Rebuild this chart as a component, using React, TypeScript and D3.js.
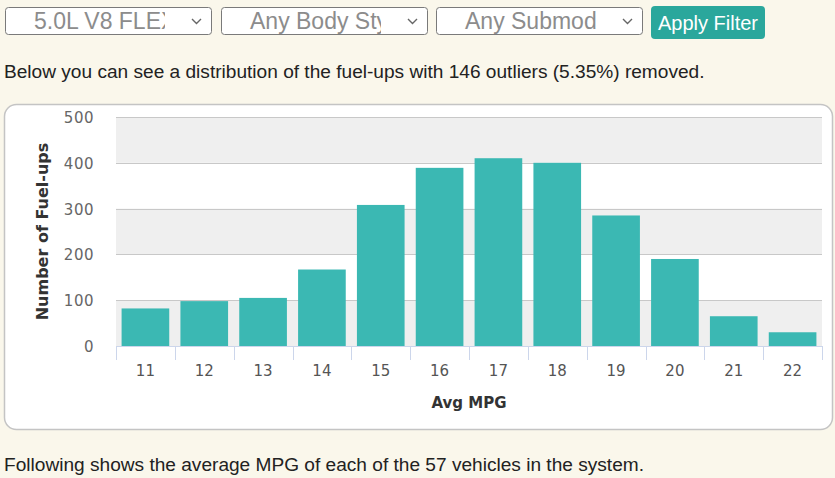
import React from "react";
import * as d3 from "d3";

const mpgCategories = ["11", "12", "13", "14", "15", "16", "17", "18", "19", "20", "21", "22"];
const fuelUpCounts = [82, 98, 105, 167, 308, 389, 410, 400, 285, 190, 65, 30];
const yTicks = [0, 100, 200, 300, 400, 500];
const selectLabels = ["5.0L V8 FLEX", "Any Body Style", "Any Submodel"];
const buttonLabel = "Apply Filter";
const introText = "Below you can see a distribution of the fuel-ups with 146 outliers (5.35%) removed.";
const footerText = "Following shows the average MPG of each of the 57 vehicles in the system.";
const yTitle = "Number of Fuel-ups";
const xTitle = "Avg MPG";

const W = 835;
const H = 478;
const plot = { left: 116, right: 822, top: 117, bottom: 346 };
const tickFont = "'DejaVu Sans', Verdana, sans-serif";
const arial = "'Liberation Sans', Arial, sans-serif";

export default function App() {
  const x = d3
    .scaleBand<string>()
    .domain(mpgCategories)
    .range([plot.left, plot.right])
    .paddingInner(0.19)
    .paddingOuter(0.095);
  const y = d3.scaleLinear().domain([0, 500]).range([plot.bottom, plot.top]);
  const step = x.step();
  const outer = (plot.right - plot.left - step * mpgCategories.length) / 2;

  const selects = [
    { x: 5, w: 206 },
    { x: 221, w: 206 },
    { x: 436, w: 206 },
  ];

  return (
    <svg
      width={W}
      height={H}
      style={{ position: "absolute", left: 0, top: 0, display: "block" }}
    >
      <defs>
        {selects.map((s, i) => (
          <clipPath id={`clip${i}`} key={i}>
            <rect x={s.x} y={7} width={s.w - 46} height={28} />
          </clipPath>
        ))}
      </defs>
      <rect x={0} y={0} width={W} height={H} fill="#faf7eb" />

      {/* selects */}
      {selects.map((s, i) => (
        <g key={i}>
          <rect x={s.x + 0.5} y={7.5} width={s.w} height={27} rx={3} fill="#ffffff" stroke="#7a7a7a" strokeWidth={1} />
          <text
            x={s.x + 29}
            y={29}
            fontFamily={arial}
            fontSize={23}
            fill="#8c8c8c"
            clipPath={`url(#clip${i})`}
          >
            {selectLabels[i]}
          </text>
          <path
            d={`M${s.x + s.w - 19},${19} l4.5,4.5 l4.5,-4.5`}
            fill="none"
            stroke="#666"
            strokeWidth={1.4}
          />
        </g>
      ))}
      <rect x={651} y={6} width={114} height={33} rx={4} fill="#2aa79c" />
      <text x={708} y={30} textAnchor="middle" fontFamily={arial} fontSize={20} fill="#ffffff">
        {buttonLabel}
      </text>

      <text x={4} y={78} fontFamily={arial} fontSize={19.1} fill="#222">
        {introText}
      </text>

      {/* card */}
      <rect x={4.5} y={104.5} width={828} height={325} rx={12} fill="#ffffff" stroke="#c4c4c4" strokeWidth={1.5} />

      {/* alternating bands */}
      {yTicks.slice(0, -1).map((t, i) =>
        i % 2 === 0 ? (
          <rect key={`b${t}`} x={plot.left} y={y(t + 100)} width={plot.right - plot.left} height={y(t) - y(t + 100)} fill="#efefef" />
        ) : null
      )}
      {/* grid lines */}
      {yTicks.slice(1).map((t) => (
        <line key={`g${t}`} x1={plot.left} x2={plot.right} y1={Math.round(y(t)) + 0.5} y2={Math.round(y(t)) + 0.5} stroke="#c8c8c8" strokeWidth={1} />
      ))}

      {/* bars */}
      {mpgCategories.map((c, i) => (
        <rect
          key={c}
          x={x(c)}
          y={y(fuelUpCounts[i])}
          width={x.bandwidth()}
          height={y(0) - y(fuelUpCounts[i])}
          fill="#3bb8b3"
        />
      ))}

      {/* x axis */}
      <line x1={plot.left} x2={plot.right} y1={plot.bottom + 0.5} y2={plot.bottom + 0.5} stroke="#ccd6eb" />
      {d3.range(mpgCategories.length + 1).map((i) => {
        const tx = Math.round(plot.left + outer + i * step) + 0.5;
        return <line key={`t${i}`} x1={tx} x2={tx} y1={plot.bottom} y2={plot.bottom + 14} stroke="#ccd6eb" />;
      })}
      {mpgCategories.map((c) => (
        <text
          key={`l${c}`}
          x={(x(c) as number) + x.bandwidth() / 2}
          y={376}
          textAnchor="middle"
          fontFamily={tickFont}
          fontSize={15}
          fill="#555"
        >
          {c}
        </text>
      ))}
      <text x={(plot.left + plot.right) / 2} y={408} textAnchor="middle" fontFamily={tickFont} fontSize={15} fontWeight="bold" fill="#333">
        {xTitle}
      </text>

      {/* y axis labels */}
      {yTicks.map((t) => (
        <text key={`y${t}`} x={94} y={y(t) + 6} textAnchor="end" fontFamily={tickFont} fontSize={15} fill="#666" letterSpacing={0.5}>
          {t}
        </text>
      ))}
      <text
        transform={`translate(48,${(plot.top + plot.bottom) / 2}) rotate(-90)`}
        textAnchor="middle"
        fontFamily={tickFont}
        fontSize={16}
        fontWeight="bold"
        fill="#333"
      >
        {yTitle}
      </text>

      <text x={4} y={471} fontFamily={arial} fontSize={19.1} fill="#222">
        {footerText}
      </text>
    </svg>
  );
}
